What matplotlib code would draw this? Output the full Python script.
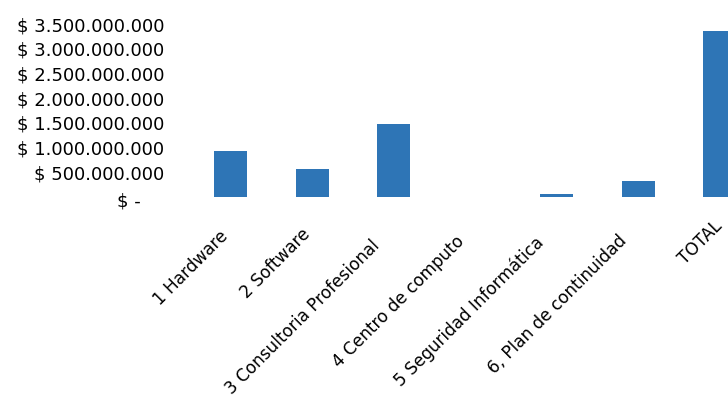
import matplotlib
matplotlib.use("Agg")
import matplotlib.pyplot as plt
from matplotlib.transforms import ScaledTranslation

categories = ["1 Hardware", "2 Software", "3 Consultoria Profesional",
              "4 Centro de computo", "5 Seguridad Informática",
              "6, Plan de continuidad", "TOTAL"]
values = [925e6, 566e6, 1483e6, 0, 60e6, 318e6, 3352e6]
yticks = [0, 500e6, 1000e6, 1500e6, 2000e6, 2500e6, 3000e6, 3500e6]
ytick_labels = ["$ -", "$ 500.000.000", "$ 1.000.000.000", "$ 1.500.000.000",
                "$ 2.000.000.000", "$ 2.500.000.000", "$ 3.000.000.000",
                "$ 3.500.000.000"]

plt.rcParams['font.family'] = ['DejaVu Sans']
W, H = 728, 408
DPI = 100
fig = plt.figure(figsize=(W / DPI, H / DPI), dpi=DPI)
fig.patch.set_facecolor('white')

step = 81.5
left_px = 230.8 - 0.5 * step
width_px = 7 * step
bottom_px = 197
top_px = 24
ax = fig.add_axes([left_px / W, (H - bottom_px) / H, width_px / W, (bottom_px - top_px) / H])

x = list(range(len(categories)))
ax.bar(x, values, width=0.405, color='#2E75B6')
ax.set_xlim(-0.5, 6.5)
ax.set_ylim(0, 3500e6)

for s in ax.spines.values():
    s.set_visible(False)

ax.set_yticks(yticks)
ax.set_yticklabels(ytick_labels, fontsize=13, color='black')
ax.tick_params(axis='y', length=0, pad=18.7)

ax.set_xticks(x)
ax.set_xticklabels(categories, rotation=45, ha='right', va='baseline',
                   rotation_mode='anchor', fontsize=12.2, color='black')
ax.tick_params(axis='x', length=0, pad=0)

# Excel-like placement of rotated labels (end of baseline near the tick,
# longer labels pulled slightly back along their direction; slight scan tilt)
renderer = fig.canvas.get_renderer()
a_px, b_px, k = 8.0, 227.0 - bottom_px, 0.1
for i, lbl in enumerate(ax.get_xticklabels()):
    w, h, d = renderer.get_text_width_height_descent(
        lbl.get_text(), lbl.get_fontproperties(), ismath=False)
    dx = a_px - k * w
    dy_down = b_px + k * w - 5.0 * i / 6.0
    off = ScaledTranslation(dx / DPI, -dy_down / DPI, fig.dpi_scale_trans)
    lbl.set_transform(lbl.get_transform() + off)

zero_off = ScaledTranslation(-23 / DPI, -3 / DPI, fig.dpi_scale_trans)
ylbls = ax.get_yticklabels()
ylbls[0].set_transform(ylbls[0].get_transform() + zero_off)

fig.savefig("out.png", dpi=DPI)
